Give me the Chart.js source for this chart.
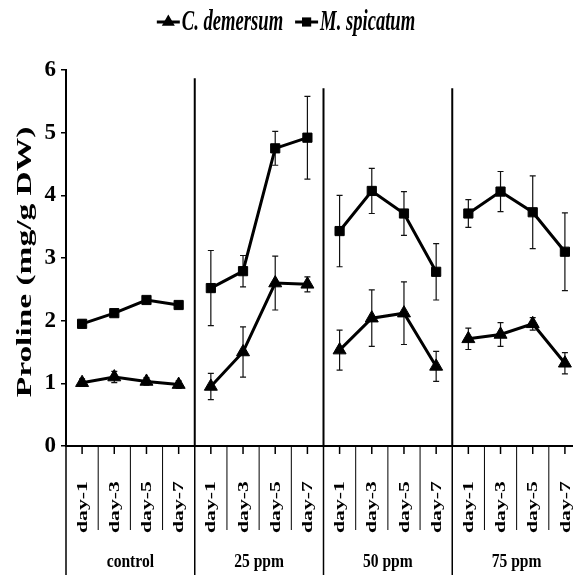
<!DOCTYPE html>
<html lang="en">
<head>
<meta charset="UTF-8" />
<title>Proline content</title>
<script src="https://cdn.jsdelivr.net/npm/chart.js@4"></script>
<style>
  html, body { margin: 0; padding: 0; background: #fff; overflow: hidden; }
  #wrap { width: 590px; height: 575px; }
</style>
</head>
<body>
<div id="wrap"><canvas id="prolineChart"></canvas></div>
<script>
// treatment groups and sampling days (16 categories in total)
const groups = ['control', '25 ppm', '50 ppm', '75 ppm'];
const days = ['day-1', 'day-3', 'day-5', 'day-7'];
const labels = groups.flatMap(() => days);

// proline (mg/g DW)
const demersum    = [1.01, 1.10, 1.03, 0.98,  0.95, 1.50, 2.60, 2.58,  1.53, 2.04, 2.12, 1.27,  1.71, 1.78, 1.95, 1.32];
const demersumErr = [0.06, 0.09, 0.06, 0.06,  0.21, 0.40, 0.43, 0.12,  0.32, 0.45, 0.50, 0.24,  0.17, 0.19, 0.10, 0.17];
const spicatum    = [1.95, 2.12, 2.33, 2.25,  2.52, 2.79, 4.75, 4.92,  3.43, 4.07, 3.71, 2.78,  3.71, 4.06, 3.73, 3.10];
const spicatumErr = [0.06, 0.05, 0.05, 0.06,  0.60, 0.25, 0.27, 0.66,  0.57, 0.36, 0.35, 0.45,  0.22, 0.32, 0.58, 0.62];

const yTitle = 'Proline (mg/g DW)';
const serif = "'Liberation Serif', 'Times New Roman', serif";

function markerPath(ctx, style, x, y, r) {
  ctx.beginPath();
  if (style === 'triangle') {
    ctx.moveTo(x, y - r);
    ctx.lineTo(x + r * 0.866, y + r * 0.5);
    ctx.lineTo(x - r * 0.866, y + r * 0.5);
    ctx.closePath();
  } else {
    const s = r * Math.SQRT1_2;
    ctx.rect(x - s, y - s, 2 * s, 2 * s);
  }
  ctx.fill();
}

const decor = {
  id: 'decor',
  beforeDatasetsDraw(chart) {
    const { ctx, chartArea, scales: { x, y } } = chart;
    const w = x.getPixelForValue(1) - x.getPixelForValue(0);
    ctx.save();
    ctx.strokeStyle = '#000';
    // group separators inside the plot
    ctx.lineWidth = 2;
    [4, 8, 12].forEach((i, k) => {
      const bx = x.getPixelForValue(i) - w / 2;
      ctx.beginPath();
      ctx.moveTo(bx, y.getPixelForValue(k === 0 ? 5.87 : 5.71));
      ctx.lineTo(bx, chartArea.bottom);
      ctx.stroke();
    });
    // error bars
    ctx.lineWidth = 1.2;
    ctx.strokeStyle = '#111';
    chart.data.datasets.forEach(ds => {
      ds.data.forEach((v, i) => {
        const px = x.getPixelForValue(i);
        const top = y.getPixelForValue(v + ds.err[i]);
        const bot = y.getPixelForValue(v - ds.err[i]);
        ctx.beginPath();
        ctx.moveTo(px, top); ctx.lineTo(px, bot);
        ctx.moveTo(px - 3, top); ctx.lineTo(px + 3, top);
        ctx.moveTo(px - 3, bot); ctx.lineTo(px + 3, bot);
        ctx.stroke();
      });
    });
    ctx.restore();
  },
  afterDraw(chart) {
    const { ctx, chartArea, scales: { x, y } } = chart;
    const H = chart.height;
    const w = x.getPixelForValue(1) - x.getPixelForValue(0);
    ctx.save();
    ctx.fillStyle = '#000';
    ctx.strokeStyle = '#000';

    // lines below the x axis
    for (let i = 0; i <= labels.length; i++) {
      const bx = x.getPixelForValue(0) - w / 2 + i * w;
      ctx.beginPath();
      if (i % 4 === 0) {
        ctx.lineWidth = 1.5;
        ctx.moveTo(bx, chartArea.bottom); ctx.lineTo(bx, H);
      } else {
        ctx.lineWidth = 1;
        ctx.moveTo(bx, chartArea.bottom); ctx.lineTo(bx, chartArea.bottom + 84);
      }
      ctx.stroke();
    }
    ctx.lineWidth = 1.5;
    labels.forEach((_, i) => {
      const cx = x.getPixelForValue(i);
      ctx.beginPath();
      ctx.moveTo(cx, chartArea.bottom); ctx.lineTo(cx, chartArea.bottom + 8);
      ctx.stroke();
    });

    // day labels (rotated, stretched along the text)
    ctx.font = `bold 14px ${serif}`;
    ctx.textAlign = 'left';
    ctx.textBaseline = 'middle';
    labels.forEach((lab, i) => {
      ctx.save();
      ctx.translate(x.getPixelForValue(i) + 1, chartArea.bottom + 87);
      ctx.rotate(-Math.PI / 2);
      ctx.scale(1.55, 1);
      ctx.fillText(lab, 0, 0);
      ctx.restore();
    });

    // group labels
    ctx.font = `bold 19px ${serif}`;
    ctx.textAlign = 'center';
    ctx.textBaseline = 'alphabetic';
    groups.forEach((g, k) => {
      const gx = (x.getPixelForValue(4 * k) + x.getPixelForValue(4 * k + 3)) / 2;
      ctx.save();
      ctx.translate(gx, H - 8);
      ctx.scale(0.82, 1);
      ctx.fillText(g, 0, 0);
      ctx.restore();
    });

    // y axis title
    ctx.save();
    ctx.translate(25, 262);
    ctx.rotate(-Math.PI / 2);
    ctx.font = `bold 22px ${serif}`;
    ctx.textAlign = 'center';
    ctx.textBaseline = 'middle';
    ctx.scale(1.52, 1);
    ctx.fillText(yTitle, 0, 0);
    ctx.restore();

    // legend
    ctx.font = `bold italic 30px ${serif}`;
    ctx.textAlign = 'left';
    ctx.textBaseline = 'alphabetic';
    const sx = 0.62;
    const items = chart.data.datasets.map(ds => ({ ds, tw: ctx.measureText(ds.label).width * sx }));
    const total = items.reduce((s, it) => s + 25 + it.tw, 0) + 12 * (items.length - 1);
    let lx = 286 - total / 2;
    const ly = 22;
    items.forEach(({ ds, tw }) => {
      ctx.lineWidth = 3;
      ctx.beginPath();
      ctx.moveTo(lx, ly); ctx.lineTo(lx + 23, ly);
      ctx.stroke();
      markerPath(ctx, ds.pointStyle, lx + 11.5, ly, ds.pointStyle === 'triangle' ? 7.5 : 6.5);
      ctx.save();
      ctx.translate(lx + 25, 30);
      ctx.scale(sx, 1);
      ctx.fillText(ds.label, 0, 0);
      ctx.restore();
      lx += 25 + tw + 12;
    });
    ctx.restore();
  }
};

const groupBreak = c => (c.p0DataIndex % 4 === 3 ? 'rgba(0,0,0,0)' : '#000');

new Chart(document.getElementById('prolineChart'), {
  type: 'line',
  data: {
    labels,
    datasets: [
      {
        label: 'C. demersum', data: demersum, err: demersumErr,
        borderColor: '#000', borderWidth: 3, pointStyle: 'triangle', pointRadius: 7.5,
        pointBackgroundColor: '#000', pointBorderColor: '#000', pointBorderWidth: 1,
        segment: { borderColor: groupBreak }
      },
      {
        label: 'M. spicatum', data: spicatum, err: spicatumErr,
        borderColor: '#000', borderWidth: 3, pointStyle: 'rect', pointRadius: 6.5,
        pointBackgroundColor: '#000', pointBorderColor: '#000', pointBorderWidth: 1,
        segment: { borderColor: groupBreak }
      }
    ]
  },
  options: {
    responsive: true,
    maintainAspectRatio: false,
    animation: false,
    layout: { padding: { top: 70, right: 9, left: 0, bottom: 0 } },
    plugins: { legend: { display: false }, tooltip: { enabled: false } },
    scales: {
      x: {
        type: 'category',
        offset: true,
        grid: { display: false },
        border: { display: true, color: '#000', width: 2 },
        ticks: { display: false },
        afterFit(s) { s.height = 129; }
      },
      y: {
        min: 0, max: 6,
        ticks: { stepSize: 1, color: '#000', padding: 5, font: { family: serif, weight: 'bold', size: 23 } },
        grid: { drawOnChartArea: false, drawTicks: true, tickLength: 5, color: '#000', lineWidth: 1.5 },
        border: { display: true, color: '#000', width: 2 },
        afterFit(s) { s.width = 66; }
      }
    }
  },
  plugins: [decor]
});
</script>
</body>
</html>
